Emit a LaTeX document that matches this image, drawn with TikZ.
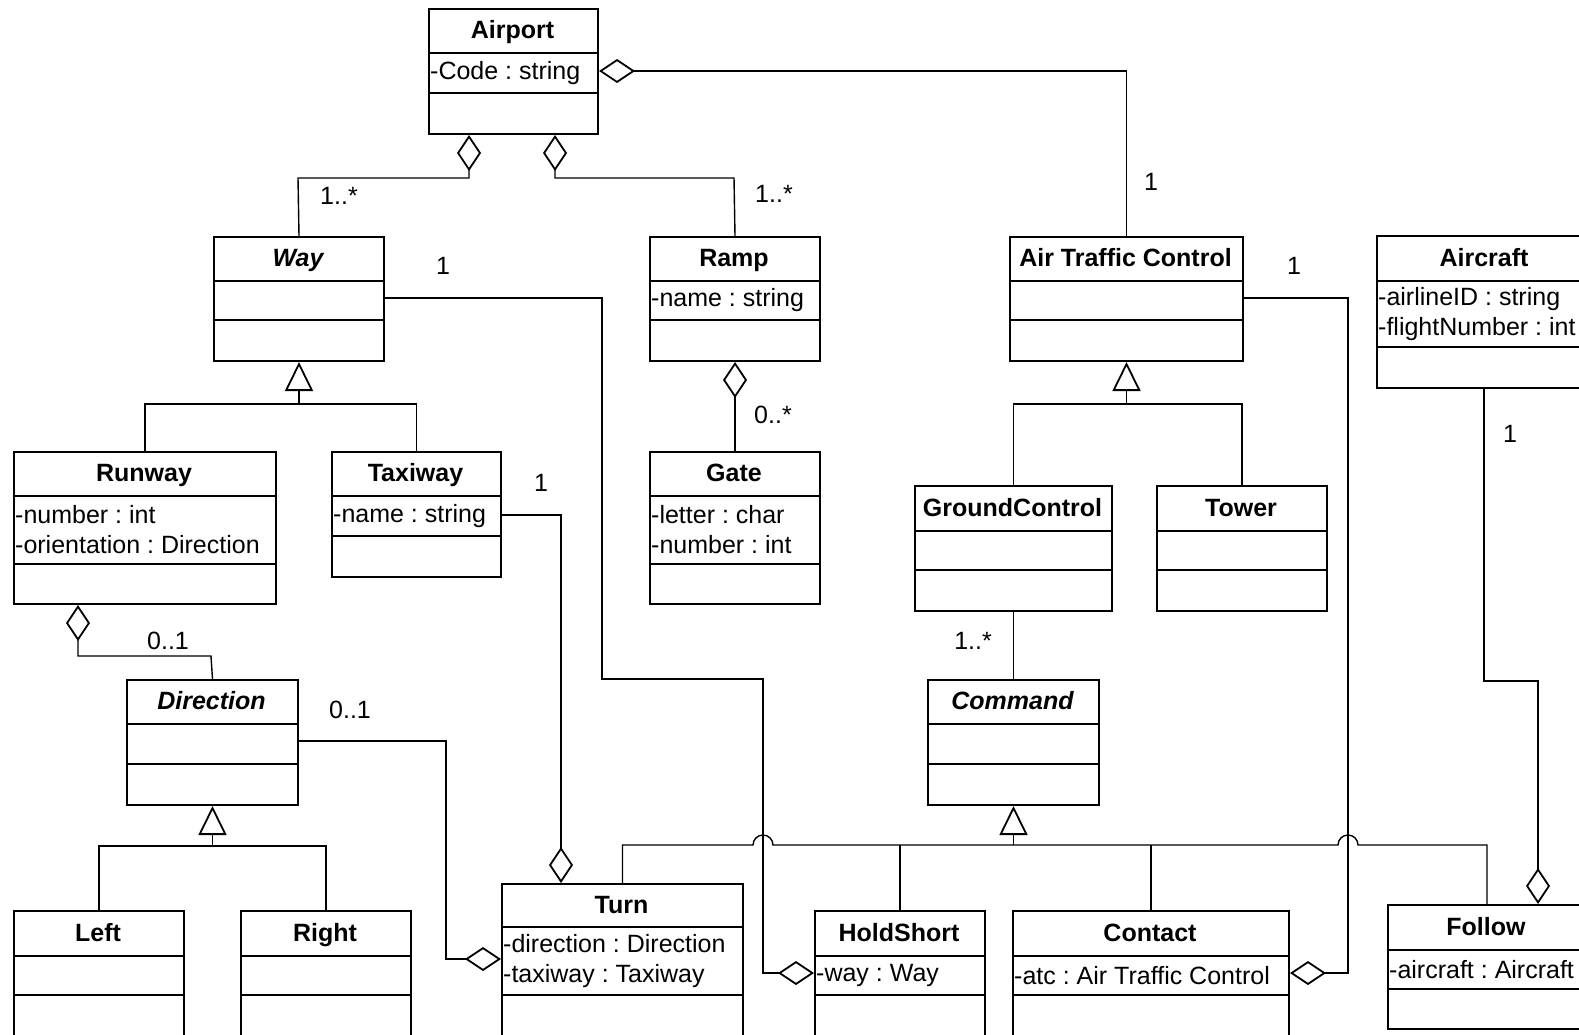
\documentclass[tikz,border=0pt]{standalone}
\usepackage{fontspec}
\setmainfont{Liberation Sans}
\usetikzlibrary{arrows.meta}
\frenchspacing
\tikzset{
  clsbox/.style={draw, line width=2pt, inner sep=0pt},
  clsdiv/.style={line width=2pt},
  clstitle/.style={font=\fontsize{25}{30}\selectfont\bfseries, inner sep=0pt, text height=18pt, text depth=2pt},
  clsattr/.style={font=\fontsize{25}{30}\selectfont, align=left, inner xsep=2pt, inner ysep=0pt, anchor=west},
  conn/.style={line width=1.4pt},
  aggr/.style={conn, {Diamond[open,length=36pt,width=24pt,line width=1.8pt]}-},
  genz/.style={conn, -{Triangle[open,length=29pt,width=28pt,line width=1.8pt]}},
  mult/.style={font=\fontsize{25}{30}\selectfont, inner sep=0pt},
}
% name, x1, y1, x2, div1, div2, y2, title, attributes
\newcommand{\ucls}[9]{%
  \pgfmathsetmacro\uclsw{#4-#2}%
  \pgfmathsetmacro\uclsh{#7-#3}%
  \node[clsbox, minimum width=\uclsw pt, minimum height=\uclsh pt, anchor=north west] (#1) at (#2,#3) {};
  \draw[clsdiv] (#2,#5) -- (#4,#5) (#2,#6) -- (#4,#6);
  \node[clstitle] (#1-t) at ({(#2+#4)/2},{(#3+#5)/2}) {#8};
  \if\relax\detokenize{#9}\relax\else
  \node[clsattr] (#1-a) at (#2,{(#5+#6)/2}) {#9};
  \fi
}
\begin{document}
\begin{tikzpicture}[x=1pt,y=-1pt]
\clip (0,0) rectangle (1579,1034);
\fill[white] (0,0) rectangle (1579,1034);

\ucls{airport}{428}{8}{597}{53}{93}{133}{Airport}{-Code : string}
\ucls{way}{213}{236}{383}{281}{320}{360}{\itshape Way}{}
\ucls{ramp}{649}{236}{819}{281}{320}{360}{Ramp}{-name : string}
\ucls{atc}{1009}{236}{1242}{281}{320}{360}{Air Traffic Control}{}
\ucls{aircraft}{1376}{235}{1592}{281}{347}{387}{Aircraft}{-airlineID : string\\-flightNumber : int}
\ucls{runway}{13}{451}{275}{496}{564}{603}{Runway}{-number : int\\-orientation : Direction}
\ucls{taxiway}{331}{451}{500}{496}{536}{576}{Taxiway}{-name : string}
\ucls{gate}{649}{451}{819}{496}{564}{603}{Gate}{-letter : char\\-number : int}
\ucls{gc}{914}{485}{1111}{531}{570}{610}{GroundControl}{}
\ucls{tower}{1156}{485}{1326}{531}{570}{610}{Tower}{}
\ucls{direction}{126}{679}{297}{724}{764}{804}{\itshape Direction}{}
\ucls{command}{927}{679}{1098}{724}{764}{804}{\itshape Command}{}
\ucls{left}{13}{910}{183}{956}{995}{1070}{Left}{}
\ucls{right}{240}{910}{410}{956}{995}{1070}{Right}{}
\ucls{turn}{501}{883}{742}{927}{995}{1070}{Turn}{-direction : Direction\\-taxiway : Taxiway}
\ucls{holdshort}{814}{910}{984}{956}{995}{1070}{HoldShort}{-way : Way}
\ucls{contact}{1012}{910}{1288}{956}{995}{1070}{Contact}{-atc : Air Traffic Control}
\ucls{follow}{1387}{904}{1585}{950}{989}{1028}{Follow}{-aircraft : Aircraft}

% aggregations
\draw[aggr] (airport.south -| 469,0) |- (298,178) -- (way.north);
\draw[aggr] (airport.south -| 555,0) |- (734,178) -- (ramp.north);
\draw[aggr] (airport.east |- 0,71) -| (atc.north);
\draw[aggr] (ramp.south) -- (gate.north);
\draw[aggr] (runway.south -| 78,0) |- (211,656) -- (direction.north);
\draw[aggr] (turn.north -| 561,0) |- (taxiway.east |- 0,515);
\draw[aggr] (turn.west |- 0,959) -| (446,741) -- (direction.east |- 0,741);
\draw[aggr] (holdshort.west |- 0,973) -| (763,679) -| (602,298) -- (way.east |- 0,298);
\draw[aggr] (contact.east |- 0,973) -| (1348,298) -- (atc.east |- 0,298);
\draw[aggr] (follow.north -| 1538,0) |- (1484,681) -- (aircraft.south -| 1484,0);

% plain association
\draw[conn] (gc.south) -- (command.north);

% generalizations
\draw[conn] (runway.north) |- (taxiway.north |- 0,404) -- (taxiway.north);
\draw[genz] (way.south |- 0,404) -- (way.south);
\draw[conn] (left.north) |- (right.north |- 0,846) -- (right.north);
\draw[genz] (direction.south |- 0,846) -- (direction.south);
\draw[conn] (gc.north) |- (tower.north |- 0,404) -- (tower.north);
\draw[genz] (atc.south |- 0,404) -- (atc.south);
\draw[conn] (turn.north) |- (753,845)
  .. controls (753,839.5) and (757.5,835) .. (763,835)
  .. controls (768.5,835) and (773,839.5) .. (773,845)
  -- (1338,845)
  .. controls (1338,839.5) and (1342.5,835) .. (1348,835)
  .. controls (1353.5,835) and (1358,839.5) .. (1358,845)
  -| (follow.north);
\draw[conn] (holdshort.north) -- (holdshort.north |- 0,845);
\draw[conn] (contact.north) -- (contact.north |- 0,845);
\draw[genz] (command.south |- 0,845) -- (command.south);

% multiplicities
\node[mult] (m1) at (339,196) {1..*};
\node[mult] (m2) at (774,194) {1..*};
\node[mult] (m3) at (1151,182) {1};
\node[mult] (m4) at (443,266) {1};
\node[mult] (m5) at (1294,266) {1};
\node[mult] (m6) at (541,483) {1};
\node[mult] (m7) at (773,415) {0..*};
\node[mult] (m8) at (168,641) {0..1};
\node[mult] (m9) at (350,710) {0..1};
\node[mult] (m10) at (973,641) {1..*};
\node[mult] (m11) at (1510,434) {1};
\end{tikzpicture}
\end{document}
